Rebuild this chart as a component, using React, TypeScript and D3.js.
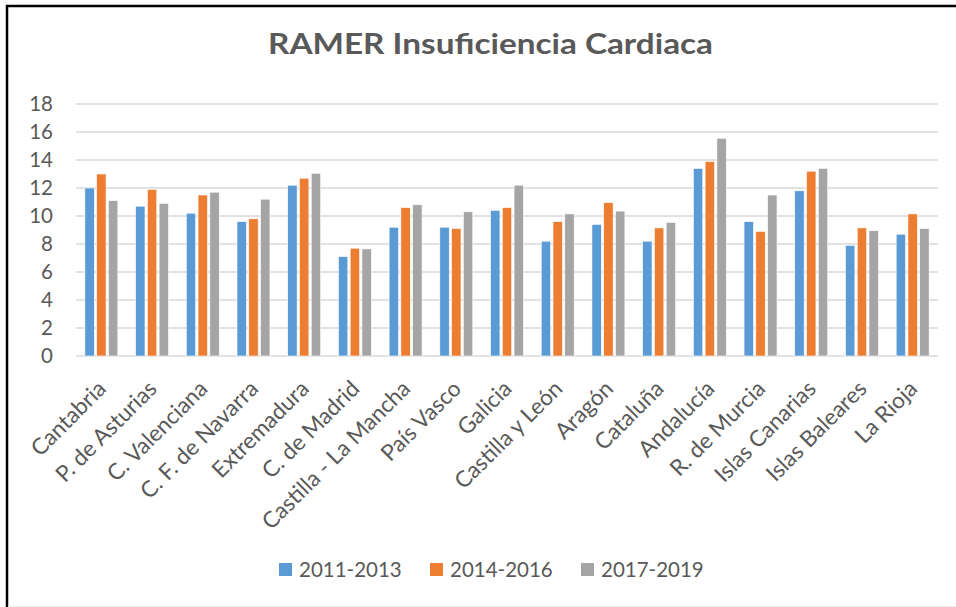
import React, { useEffect, useRef } from "react";
import * as d3 from "d3";

const categories = [
  "Cantabria", "P. de Asturias", "C. Valenciana", "C. F. de Navarra", "Extremadura",
  "C. de Madrid", "Castilla - La Mancha", "País Vasco", "Galicia", "Castilla y León",
  "Aragón", "Cataluña", "Andalucía", "R. de Murcia", "Islas Canarias", "Islas Baleares", "La Rioja",
];
const seriesNames = ["2011-2013", "2014-2016", "2017-2019"];
const s2011 = [12.0, 10.7, 10.2, 9.6, 12.2, 7.1, 9.2, 9.2, 10.4, 8.2, 9.4, 8.2, 13.4, 9.6, 11.8, 7.9, 8.7];
const s2014 = [13.0, 11.9, 11.5, 9.8, 12.7, 7.7, 10.6, 9.1, 10.6, 9.6, 10.95, 9.15, 13.9, 8.9, 13.2, 9.15, 10.15];
const s2017 = [11.1, 10.9, 11.7, 11.2, 13.05, 7.65, 10.8, 10.3, 12.2, 10.15, 10.35, 9.55, 15.55, 11.5, 13.4, 8.95, 9.1];
const yTicks = [0, 2, 4, 6, 8, 10, 12, 14, 16, 18];
const colors = ["#5b9bd5", "#ed7d31", "#a5a5a5"];
const title = "RAMER Insuficiencia Cardiaca";

const W = 956, H = 607;
const FONT = "Lato, 'Noto Sans', sans-serif";

export default function App() {
  const ref = useRef<SVGSVGElement>(null);
  useEffect(() => {
    const svg = d3.select(ref.current);
    svg.selectAll("*").remove();
    const series = [s2011, s2014, s2017];
    const left = 76, right = 938, top = 104, bottom = 356;
    const x0 = d3.scaleBand<string>().domain(categories).range([left, right]).paddingInner(0.35).paddingOuter(0.175);
    const x1 = d3.scaleBand<string>().domain(seriesNames).range([0, x0.bandwidth()]).paddingInner(0.2);
    const y = d3.scaleLinear().domain([0, 18]).range([bottom, top]);

    svg.append("rect").attr("width", W).attr("height", H).attr("fill", "#fff");

    // border
    svg.append("line").attr("x1", 6).attr("x2", W).attr("y1", 6).attr("y2", 6).attr("stroke", "#000").attr("stroke-width", 2.5);
    svg.append("line").attr("x1", 7).attr("x2", 7).attr("y1", 5).attr("y2", H).attr("stroke", "#000").attr("stroke-width", 2.5);
    svg.append("line").attr("x1", 8).attr("x2", W).attr("y1", 606.5).attr("y2", 606.5).attr("stroke", "#ececec").attr("stroke-width", 1);

    // title
    svg.append("text").attr("x", 490.5).attr("y", 54).attr("text-anchor", "middle")
      .attr("textLength", 445).attr("lengthAdjust", "spacingAndGlyphs")
      .attr("font-family", FONT).attr("font-weight", "bold").attr("font-size", 29).attr("fill", "#595959").text(title);

    // grid
    const g = svg.append("g");
    g.selectAll("line.grid").data(yTicks).join("line")
      .attr("x1", left).attr("x2", right).attr("y1", (d) => y(d)).attr("y2", (d) => y(d))
      .attr("stroke", "#d9d9d9").attr("stroke-width", 1.5);

    g.selectAll("text.ytick").data(yTicks).join("text")
      .attr("x", 53).attr("y", (d) => y(d)).attr("dy", "0.36em").attr("text-anchor", "end")
      .attr("font-family", FONT).attr("font-size", 20.5).attr("fill", "#595959").text((d) => String(d));

    // bars
    categories.forEach((c, i) => {
      series.forEach((s, k) => {
        g.append("rect")
          .attr("x", (x0(c) ?? 0) + (x1(seriesNames[k]) ?? 0))
          .attr("y", y(s[i]))
          .attr("width", x1.bandwidth())
          .attr("height", y(0) - y(s[i]))
          .attr("fill", colors[k])
          .attr("stroke", "#fff").attr("stroke-width", 0.6);
      });
    });

    // x labels
    categories.forEach((c) => {
      const cx = (x0(c) ?? 0) + x0.bandwidth() / 2;
      g.append("text")
        .attr("transform", `translate(${cx - 5},${379}) rotate(-45)`)
        .attr("text-anchor", "end").attr("dy", "0.7em")
        .attr("font-family", FONT).attr("font-size", 22.5).attr("fill", "#595959").text(c);
    });

    // legend
    const lx = [279, 430, 581];
    seriesNames.forEach((n, k) => {
      svg.append("rect").attr("x", lx[k]).attr("y", 563).attr("width", 13).attr("height", 13).attr("fill", colors[k]);
      svg.append("text").attr("x", lx[k] + 20).attr("y", 577)
        .attr("font-family", FONT).attr("font-size", 20.5).attr("fill", "#595959").text(n);
    });
  }, []);
  return (
    <svg ref={ref} width={W} height={H} style={{ position: "absolute", left: 0, top: 0, display: "block" }} />
  );
}
